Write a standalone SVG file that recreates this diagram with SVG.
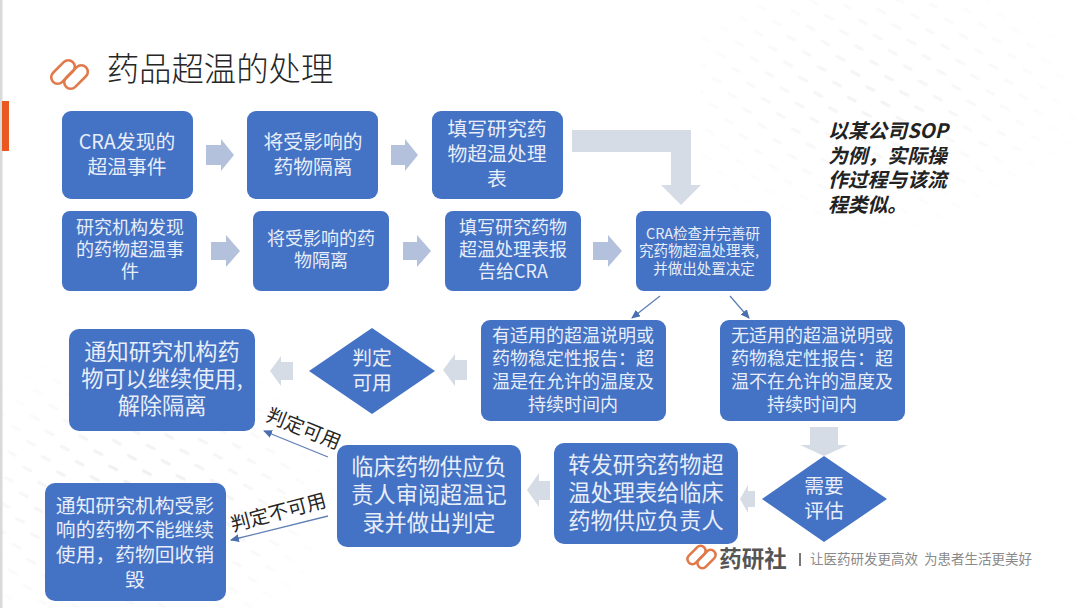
<svg xmlns="http://www.w3.org/2000/svg" width="1080" height="608" viewBox="0 0 1080 608">
<style>
text{font-family:"Noto Sans CJK SC","Noto Sans",sans-serif;text-anchor:middle}
.b{fill:#4472c4}
.w{fill:#e8eef9}
.s20{font-size:19.8px}.s18{font-size:18px}.s14{font-size:14.5px}.s22{font-size:22.2px}
.k{fill:#262626;font-size:19.6px}
.c{fill:none;stroke:#5f7fb5;stroke-width:1.3;marker-end:url(#m)}
.a1{fill:#b4c1dd}.a2{fill:#d6dce5}
.lg{fill:none;stroke:#e07a4a;stroke-width:2.6}
</style>
<defs>
<marker id="m" markerWidth="9" markerHeight="8" refX="8" refY="4" orient="auto" markerUnits="userSpaceOnUse"><path d="M0 0L9 4L0 8Z" fill="#4a6fae"/></marker>
<pattern id="dots" width="34" height="26" patternUnits="userSpaceOnUse" patternTransform="rotate(8)">
<rect x="2" y="4" width="11" height="3" rx="1.5" transform="rotate(20 7 5)" fill="#e6e6e6"/>
<rect x="19" y="17" width="11" height="3" rx="1.5" transform="rotate(20 24 18)" fill="#e6e6e6"/>
</pattern>
<radialGradient id="f1" cx=".45" cy=".4" r=".6"><stop offset="0" stop-color="#fff" stop-opacity=".5"/><stop offset="1" stop-color="#fff" stop-opacity="0"/></radialGradient>
<radialGradient id="f2" cx=".4" cy=".6" r=".6"><stop offset="0" stop-color="#fff" stop-opacity=".75"/><stop offset="1" stop-color="#fff" stop-opacity="0"/></radialGradient>
<mask id="k1"><rect x="700" y="0" width="380" height="240" fill="url(#f1)"/></mask>
<mask id="k2"><rect x="0" y="340" width="340" height="268" fill="url(#f2)"/></mask>
</defs>
<rect width="1080" height="608" fill="#fff"/>
<rect x="700" y="0" width="380" height="240" fill="url(#dots)" mask="url(#k1)"/>
<rect x="0" y="340" width="340" height="268" fill="url(#dots)" mask="url(#k2)"/>
<rect x="0" y="0" width="2.5" height="608" fill="#d9d9d9"/>
<rect x="2" y="101" width="7" height="50" fill="#e8581f"/>
<g id="title">
<rect x="-14" y="-6.5" width="28" height="13" rx="6.5" class="lg" transform="translate(63 72) rotate(-45)"/>
<rect x="-14" y="-6.5" width="28" height="13" rx="6.5" class="lg" transform="translate(76 77) rotate(-45)"/>
<text x="220" y="81" style="font-size:32.4px;font-weight:300" fill="#262626">药品超温的处理</text>
</g>
<g id="connectors">
<path class="a1" d="M206 145h15v-6l13 16-13 16v-6h-15z"/>
<path class="a1" d="M391 145h14v-6l13 16-13 16v-6h-14z"/>
<path class="a2" d="M572 130H691V185H701L681 205 661 185H671V152H572z"/>
<path class="a1" d="M211 242h15v-7l14 16-14 16v-7h-15z"/>
<path class="a1" d="M403 242h14v-7l14 16-14 16v-7h-14z"/>
<path class="a1" d="M593 242h15v-7l14 16-14 16v-7h-15z"/>
<path class="c" d="M660 296L632 318"/>
<path class="c" d="M730 296L749 318"/>
<path class="a2" d="M467 360v20h-12v6l-12-16 12-16v6z"/>
<path class="a2" d="M293 362v18h-12v6l-11-15 11-15v6z"/>
<path class="a2" d="M810 427h28v18h10l-24 11-24-11h10z"/>
<path class="a2" d="M755 491v16h-7v6l-8-14 8-14v6z"/>
<path class="a2" d="M550 481v19h-11v7l-12-17 12-17v8z"/>
<path class="c" d="M328 457L264 431"/>
<path class="c" d="M328 516L231 540"/>
<text class="k" transform="translate(301 435) rotate(22)">判定可用</text>
<text class="k" transform="translate(280 519) rotate(-15)">判定不可用</text>
</g>
<g id="n1"><rect class="b" x="62" y="111" width="131" height="88" rx="9"/><text class="w s20"><tspan x="127" y="149">CRA发现的</tspan><tspan x="127" y="174">超温事件</tspan></text></g>
<g id="n2"><rect class="b" x="247" y="111" width="131" height="88" rx="9"/><text class="w s20"><tspan x="313" y="149">将受影响的</tspan><tspan x="313" y="174">药物隔离</tspan></text></g>
<g id="n3"><rect class="b" x="432" y="111" width="131" height="88" rx="9"/><text class="w s20"><tspan x="497" y="136">填写研究药</tspan><tspan x="497" y="161">物超温处理</tspan><tspan x="497" y="186">表</tspan></text></g>
<g id="n4"><rect class="b" x="62" y="211" width="135" height="80" rx="8"/><text class="w s18"><tspan x="130" y="234">研究机构发现</tspan><tspan x="130" y="256">的药物超温事</tspan><tspan x="130" y="278">件</tspan></text></g>
<g id="n5"><rect class="b" x="253" y="211" width="136" height="80" rx="8"/><text class="w s18"><tspan x="321" y="245">将受影响的药</tspan><tspan x="321" y="267">物隔离</tspan></text></g>
<g id="n6"><rect class="b" x="445" y="211" width="136" height="80" rx="8"/><text class="w s18"><tspan x="513" y="234">填写研究药物</tspan><tspan x="513" y="256">超温处理表报</tspan><tspan x="513" y="278">告给CRA</tspan></text></g>
<g id="n7"><rect class="b" x="636" y="211" width="135" height="80" rx="8"/><text class="w s14"><tspan x="703" y="239">CRA检查并完善研</tspan><tspan x="699" y="256">究药物超温处理表,</tspan><tspan x="704" y="274">并做出处置决定</tspan></text></g>
<g id="n8"><rect class="b" x="481" y="320" width="185" height="101" rx="9"/><text class="w s18"><tspan x="573" y="342">有适用的超温说明或</tspan><tspan x="573" y="365">药物稳定性报告：超</tspan><tspan x="573" y="388">温是在允许的温度及</tspan><tspan x="573" y="411">持续时间内</tspan></text></g>
<g id="n9"><rect class="b" x="720" y="320" width="185" height="101" rx="9"/><text class="w s18"><tspan x="812" y="342">无适用的超温说明或</tspan><tspan x="812" y="365">药物稳定性报告：超</tspan><tspan x="812" y="388">温不在允许的温度及</tspan><tspan x="812" y="411">持续时间内</tspan></text></g>
<g id="n10"><path class="b" d="M372 328L435 371 372 414 309 371Z"/><text class="w s20"><tspan x="372" y="365">判定</tspan><tspan x="372" y="390">可用</tspan></text></g>
<g id="n11"><rect class="b" x="69" y="329" width="186" height="102" rx="10"/><text class="w s22"><tspan x="162" y="360">通知研究机构药</tspan><tspan x="162" y="387">物可以继续使用,</tspan><tspan x="162" y="414">解除隔离</tspan></text></g>
<g id="n12"><rect class="b" x="337" y="445" width="184" height="102" rx="10"/><text class="w s22"><tspan x="429" y="475">临床药物供应负</tspan><tspan x="429" y="503">责人审阅超温记</tspan><tspan x="429" y="531">录并做出判定</tspan></text></g>
<g id="n13"><rect class="b" x="554" y="443" width="184" height="101" rx="10"/><text class="w s22"><tspan x="646" y="473">转发研究药物超</tspan><tspan x="646" y="501">温处理表给临床</tspan><tspan x="646" y="529">药物供应负责人</tspan></text></g>
<g id="n14"><path class="b" d="M824 456L887 499 824 542 762 499Z"/><text class="w s20"><tspan x="824" y="493">需要</tspan><tspan x="824" y="518">评估</tspan></text></g>
<g id="n15"><rect class="b" x="45" y="483" width="181" height="118" rx="10"/><text class="w s20"><tspan x="135" y="513">通知研究机构受影</tspan><tspan x="135" y="537">响的药物不能继续</tspan><tspan x="135" y="562">使用，药物回收销</tspan><tspan x="135" y="587">毁</tspan></text></g>
<text id="note" style="font-style:italic;font-weight:700;font-size:19.8px;text-anchor:start" fill="#222"><tspan x="828" y="138">以某公司SOP</tspan><tspan x="828" y="163">为例，实际操</tspan><tspan x="828" y="187">作过程与该流</tspan><tspan x="828" y="212">程类似。</tspan></text>
<g id="brand">
<rect x="-10.8" y="-5" width="21.6" height="10" rx="5" class="lg" transform="translate(696.5 555) rotate(-45)"/>
<rect x="-10.8" y="-5" width="21.6" height="10" rx="5" class="lg" transform="translate(706.5 559) rotate(-45)"/>
<text x="753" y="567" style="font-size:22.5px;font-weight:700" fill="#555">药研社</text>
<rect x="799" y="553" width="2" height="13" fill="#777"/>
<text x="921" y="564" style="font-size:13.5px" fill="#8a8a8a" xml:space="preserve">让医药研发更高效  为患者生活更美好</text>
</g>
</svg>
